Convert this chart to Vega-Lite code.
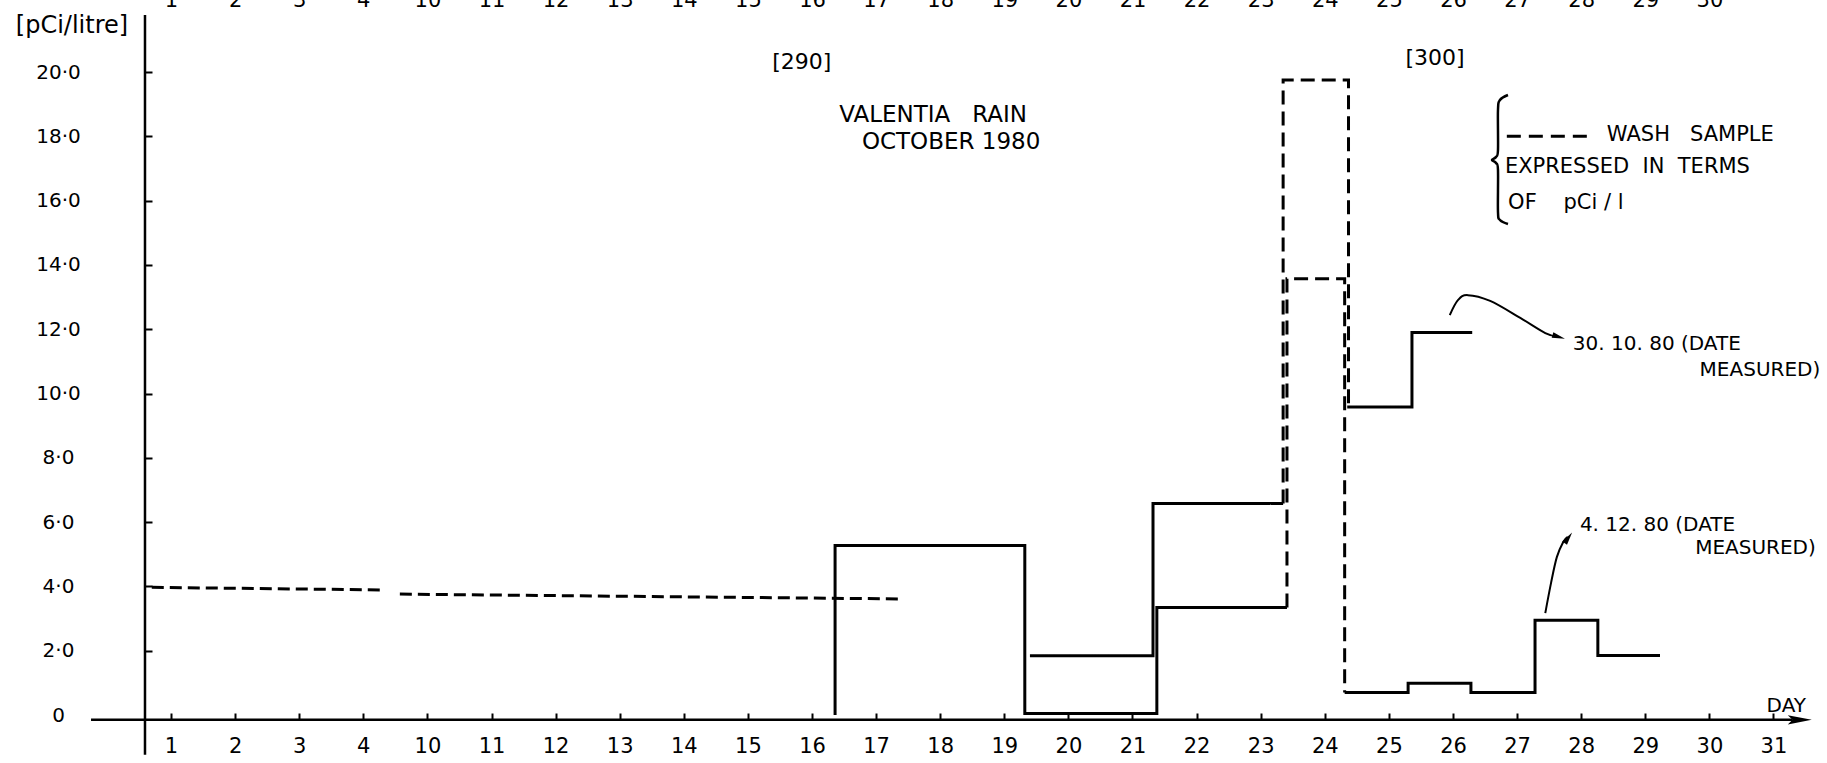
{
"$schema":"https://vega.github.io/schema/vega-lite/v6.json",
"width":1827,"height":763,"autosize":{"type":"none"},"padding":0,"background":"white",
"config":{"view":{"stroke":null},"axis":{"grid":false,"domain":false,"labelColor":"black","tickColor":"black","labelFont":"DejaVu Sans"},"text":{"font":"DejaVu Sans","color":"black","baseline":"middle"}},
"resolve":{"axis":{"x":"independent","y":"independent"}},
"encoding":{
 "x":{"field":"k","type":"quantitative","scale":{"domain":[-1.668,26.835],"nice":false,"zero":false},"axis":null},
 "y":{"field":"v","type":"quantitative","scale":{"domain":[-1.493,22.24],"nice":false,"zero":false},"axis":null}
},
"layer":[
{
 "data":{"values":[{"k":-0.248,"v":-0.15,"k2":26.3,"v2":-0.15},{"k":0.594,"v":-1.24,"k2":0.594,"v2":21.77}]},
 "mark":{"type":"rule","strokeWidth":2.5,"color":"black"},
 "encoding":{
  "x":{"field":"k","type":"quantitative","scale":{"domain":[-1.668,26.835],"nice":false,"zero":false},
   "axis":{"orient":"top","offset":-10,"values":[1,2,3,4,5,6,7,8,9,10,11,12,13,14,15,16,17,18,19,20,21,22,23,24,25],
    "labelExpr":"['1','2','3','4','10','11','12','13','14','15','16','17','18','19','20','21','22','23','24','25','26','27','28','29','30','31'][datum.value-1]",
    "ticks":false,"tickSize":0,"labelPadding":0,"labelFontSize":21,"labelFlush":false,"labelOverlap":false,"title":null}},
  "x2":{"field":"k2"},"y2":{"field":"v2"}
 }
},
{
 "data":{"values":[
  {"p":"X1","kind":"rain","i":1,"k":11.36,"v":0},
  {"p":"X1","kind":"rain","i":2,"k":11.36,"v":5.27},
  {"p":"X1","kind":"rain","i":3,"k":14.32,"v":0.05},
  {"p":"X1","kind":"rain","i":4,"k":16.38,"v":3.34},
  {"p":"X1","kind":"rain","i":5,"k":18.41,"v":3.34},
  {"p":"X2","kind":"wash","i":1,"k":18.41,"v":3.34},
  {"p":"X2","kind":"wash","i":2,"k":18.41,"v":13.57},
  {"p":"X2","kind":"wash","i":3,"k":19.31,"v":0.7},
  {"p":"X3","kind":"rain","i":1,"k":19.31,"v":0.7},
  {"p":"X3","kind":"rain","i":2,"k":20.3,"v":0.99},
  {"p":"X3","kind":"rain","i":3,"k":21.28,"v":0.7},
  {"p":"X3","kind":"rain","i":4,"k":22.28,"v":2.95},
  {"p":"X3","kind":"rain","i":5,"k":23.26,"v":1.85},
  {"p":"X3","kind":"rain","i":6,"k":24.23,"v":1.85},
  {"p":"Y1","kind":"rain","i":1,"k":14.4,"v":1.84},
  {"p":"Y1","kind":"rain","i":2,"k":16.32,"v":6.58},
  {"p":"Y1","kind":"rain","i":3,"k":18.35,"v":6.58},
  {"p":"Y2","kind":"wash","i":1,"k":18.35,"v":6.58},
  {"p":"Y2","kind":"wash","i":2,"k":18.35,"v":19.75},
  {"p":"Y2","kind":"wash","i":3,"k":19.37,"v":9.58},
  {"p":"Y3","kind":"rain","i":1,"k":19.35,"v":9.58},
  {"p":"Y3","kind":"rain","i":2,"k":20.36,"v":11.9},
  {"p":"Y3","kind":"rain","i":3,"k":21.3,"v":11.9}
 ]},
 "mark":{"type":"line","interpolate":"step-after","strokeWidth":3,"color":"black","strokeCap":"butt"},
 "encoding":{
  "x":{"field":"k","type":"quantitative","scale":{"domain":[-1.668,26.835],"nice":false,"zero":false},
   "axis":{"orient":"bottom","offset":-43,"values":[1,2,3,4,5,6,7,8,9,10,11,12,13,14,15,16,17,18,19,20,21,22,23,24,25,26],
    "labelExpr":"['1','2','3','4','10','11','12','13','14','15','16','17','18','19','20','21','22','23','24','25','26','27','28','29','30','31'][datum.value-1]",
    "ticks":false,"tickSize":0,"labelPadding":15,"labelFontSize":21,"labelFlush":false,"labelOverlap":false,"title":null}},
  "y":{"field":"v","type":"quantitative","scale":{"domain":[-1.493,22.24],"nice":false,"zero":false},
   "axis":{"orient":"left","offset":-145,"values":[0,2,4,6,8,10,12,14,16,18,20],
    "labelExpr":"datum.value == 0 ? '0' : replace(format(datum.value, '.1f'), '.', '·')",
    "ticks":false,"tickSize":0,"labelPadding":87,"labelAlign":"center","labelFontSize":20,"labelFlush":false,"labelOverlap":false,"title":null}},
  "detail":{"field":"p"},
  "order":{"field":"i","type":"quantitative"},
  "strokeDash":{"field":"kind","type":"nominal","scale":{"domain":["rain","wash"],"range":[[1,0],[14,7]]},"legend":null}
 }
},
{
 "data":{"values":[
  {"p":"W1","i":1,"k":0.70,"v":3.97},
  {"p":"W1","i":2,"k":4.34,"v":3.89},
  {"p":"W2","i":1,"k":4.57,"v":3.76},
  {"p":"W2","i":2,"k":12.39,"v":3.61}
 ]},
 "mark":{"type":"line","strokeWidth":3,"color":"black","strokeDash":[12,6]},
 "encoding":{
  "x":{"field":"k","type":"quantitative","scale":{"domain":[-1.668,26.835],"nice":false,"zero":false},
   "axis":{"orient":"top","offset":-720,"values":[1,2,3,4,5,6,7,8,9,10,11,12,13,14,15,16,17,18,19,20,21,22,23,24,25,26],
    "labels":false,"ticks":true,"tickSize":7,"tickWidth":2,"title":null}},
  "y":{"field":"v","type":"quantitative","scale":{"domain":[-1.493,22.24],"nice":false,"zero":false},
   "axis":{"orient":"right","offset":-1682,"values":[2,4,6,8,10,12,14,16,18,20],
    "labels":false,"ticks":true,"tickSize":7,"tickWidth":2,"title":null}},
  "detail":{"field":"p"},
  "order":{"field":"i","type":"quantitative"}
 }
},
{
 "data":{"values":[
  {"i":1,"k":21.858,"v":19.285},{"i":2,"k":21.733,"v":19.129},{"i":3,"k":21.702,"v":18.818},
  {"i":4,"k":21.702,"v":17.574},{"i":5,"k":21.671,"v":17.356},{"i":6,"k":21.608,"v":17.263},
  {"i":7,"k":21.671,"v":17.17},{"i":8,"k":21.702,"v":16.952},{"i":9,"k":21.702,"v":15.645},
  {"i":10,"k":21.733,"v":15.397},{"i":11,"k":21.858,"v":15.272}
 ]},
 "mark":{"type":"line","interpolate":"cardinal","strokeWidth":2.5,"color":"black"},
 "encoding":{"order":{"field":"i","type":"quantitative"}}
},
{
 "data":{"values":[
  {"a":"A1","i":1,"k":20.95,"v":12.44},{"a":"A1","i":2,"k":21.08,"v":12.91},{"a":"A1","i":3,"k":21.23,"v":13.06},
  {"a":"A1","i":4,"k":21.58,"v":12.88},{"a":"A1","i":5,"k":22.05,"v":12.35},{"a":"A1","i":6,"k":22.44,"v":11.88},
  {"a":"A1","i":7,"k":22.62,"v":11.78},
  {"a":"A2","i":1,"k":22.44,"v":3.17},{"a":"A2","i":2,"k":22.53,"v":4.11},{"a":"A2","i":3,"k":22.62,"v":4.91},
  {"a":"A2","i":4,"k":22.72,"v":5.38},{"a":"A2","i":5,"k":22.79,"v":5.54}
 ]},
 "mark":{"type":"line","interpolate":"cardinal","strokeWidth":2,"color":"black"},
 "encoding":{"detail":{"field":"a"},"order":{"field":"i","type":"quantitative"}}
},
{
 "data":{"values":[{"k":26.41,"v":-0.15}]},
 "mark":{"type":"point","shape":"M-1,-0.38L1,0L-1,0.38L-0.6,0Z","filled":true,"color":"black","opacity":1,"size":576,"angle":0}
},
{
 "data":{"values":[{"k":22.65,"v":11.76}]},
 "mark":{"type":"point","shape":"M-1,-0.45L1,0L-1,0.45Z","filled":true,"color":"black","opacity":1,"size":169,"angle":17}
},
{
 "data":{"values":[{"k":22.8,"v":5.51}]},
 "mark":{"type":"point","shape":"M-1,-0.45L1,0L-1,0.45Z","filled":true,"color":"black","opacity":1,"size":169,"angle":-55}
},
{
 "data":{"values":[{"k":21.84,"k2":23.09,"v":18.0}]},
 "mark":{"type":"rule","strokeWidth":3,"color":"black","strokeDash":[14,8]},
 "encoding":{"x2":{"field":"k2"}}
},
{
 "data":{"values":[{"t":"[290]","k":10.84,"v":20.31},{"t":"[300]","k":20.72,"v":20.44}]},
 "mark":{"type":"text","align":"center","fontSize":22},
 "encoding":{"text":{"field":"t"}}
},
{
 "data":{"values":[{"t":"[pCi/litre]","k":-0.545,"v":21.43}]},
 "mark":{"type":"text","align":"center","fontSize":24},
 "encoding":{"text":{"field":"t"}}
},
{
 "data":{"values":[{"t":"VALENTIA\u00a0\u00a0\u00a0RAIN","k":12.89,"v":18.66},{"t":"OCTOBER 1980","k":13.17,"v":17.82}]},
 "mark":{"type":"text","align":"center","fontSize":23},
 "encoding":{"text":{"field":"t"}}
},
{
 "data":{"values":[{"t":"DAY","k":26.2,"v":0.28}]},
 "mark":{"type":"text","align":"center","fontSize":20},
 "encoding":{"text":{"field":"t"}}
},
{
 "data":{"values":[
  {"t":"WASH\u00a0\u00a0\u00a0SAMPLE","k":23.4,"v":18.04},
  {"t":"EXPRESSED\u00a0\u00a0IN\u00a0\u00a0TERMS","k":21.81,"v":17.05},
  {"t":"OF\u00a0\u00a0\u00a0\u00a0pCi\u00a0/\u00a0l","k":21.86,"v":15.93}
 ]},
 "mark":{"type":"text","align":"left","fontSize":21},
 "encoding":{"text":{"field":"t"}}
},
{
 "data":{"values":[
  {"t":"30. 10. 80 (DATE","k":22.87,"v":11.54},
  {"t":"4. 12. 80 (DATE","k":22.98,"v":5.91}
 ]},
 "mark":{"type":"text","align":"left","fontSize":20},
 "encoding":{"text":{"field":"t"}}
},
{
 "data":{"values":[
  {"t":"MEASURED)","k":26.73,"v":10.73},
  {"t":"MEASURED)","k":26.66,"v":5.19}
 ]},
 "mark":{"type":"text","align":"right","fontSize":20},
 "encoding":{"text":{"field":"t"}}
}
]
}
